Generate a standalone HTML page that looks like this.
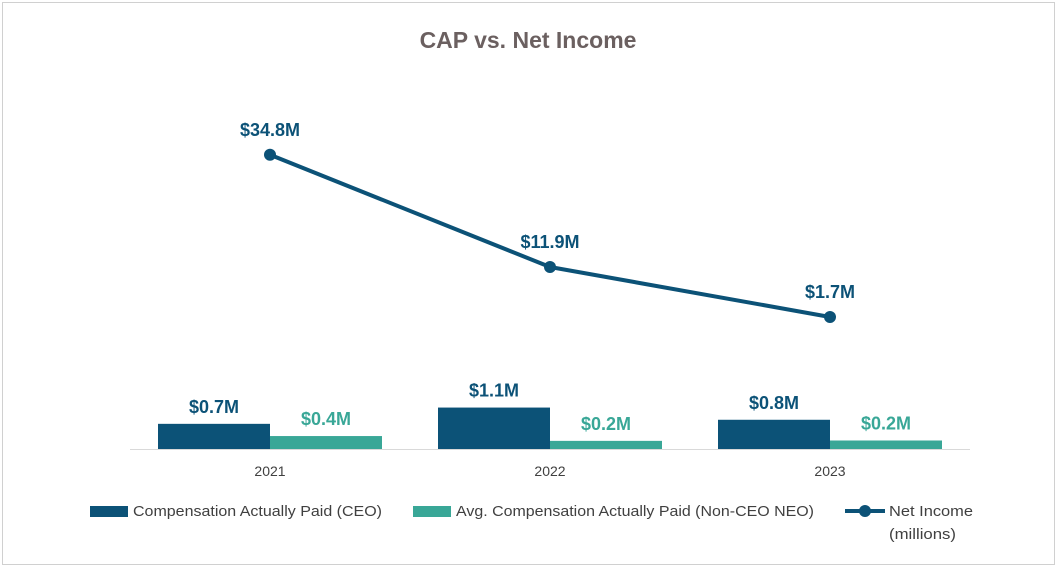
<!DOCTYPE html>
<html><head><meta charset="utf-8"><style>
body{margin:0;background:#fff;width:1058px;height:568px;overflow:hidden;font-family:"Liberation Sans",sans-serif}
svg{position:absolute;left:0;top:0}
</style></head><body>
<svg id="chart" width="1058" height="568">
<rect x="2.5" y="2.5" width="1052" height="562" fill="#fff" stroke="#d0d0d0"/>
<text x="528" y="48" text-anchor="middle" font-size="23" font-weight="bold" fill="#6b6060">CAP vs. Net Income</text>
<g id="plot"></g>
<g font-size="15" fill="#404040">
<rect x="90" y="506" width="38" height="11" fill="#0c5277"/>
<text x="133" y="516" textLength="249" lengthAdjust="spacingAndGlyphs">Compensation Actually Paid (CEO)</text>
<rect x="413" y="506" width="38" height="11" fill="#39a797"/>
<text x="456" y="516" textLength="358" lengthAdjust="spacingAndGlyphs">Avg. Compensation Actually Paid (Non-CEO NEO)</text>
<line x1="845" y1="511" x2="885" y2="511" stroke="#0c5277" stroke-width="4"/>
<circle cx="865" cy="511" r="6" fill="#0c5277"/>
<text x="889" y="516" textLength="84" lengthAdjust="spacingAndGlyphs">Net Income</text>
<text x="889" y="539" textLength="67" lengthAdjust="spacingAndGlyphs">(millions)</text>
</g>
</svg>
<script>
const categories=["2021","2022","2023"];
const ceoValues=[0.68,1.12,0.79];
const ceoLabels=["$0.7M","$1.1M","$0.8M"];
const neoValues=[0.35,0.22,0.23];
const neoLabels=["$0.4M","$0.2M","$0.2M"];
const netIncome=[34.8,11.9,1.7];
const netLabels=["$34.8M","$11.9M","$1.7M"];

const NS="http://www.w3.org/2000/svg";
const g=document.getElementById("plot");
const x0=130,x1=970,base=449;
const band=(x1-x0)/categories.length;
const xc=i=>x0+band*(i+0.5);
const yBar=v=>base-v*37;
const yLine=v=>325.3-v*4.9;
function mk(t,a){const e=document.createElementNS(NS,t);for(const k in a)e.setAttribute(k,a[k]);g.appendChild(e);return e;}
categories.forEach((c,i)=>{
  const cx=xc(i);
  let r=mk("rect",{x:cx-112,y:yBar(ceoValues[i]),width:112,height:base-yBar(ceoValues[i]),fill:"#0c5277"});
  
  
  r=mk("rect",{x:cx,y:yBar(neoValues[i]),width:112,height:base-yBar(neoValues[i]),fill:"#39a797"});
  
  
  let t=mk("text",{x:cx-56,y:yBar(ceoValues[i])-11,"text-anchor":"middle","font-size":"18","font-weight":"bold",fill:"#0c5277"});
  t.textContent=ceoLabels[i];
  
  
  t=mk("text",{x:cx+56,y:yBar(neoValues[i])-11,"text-anchor":"middle","font-size":"18","font-weight":"bold",fill:"#39a797"});
  t.textContent=neoLabels[i];
  
  
  t=mk("text",{x:cx,y:476,"text-anchor":"middle","font-size":"14",fill:"#404040"});
  t.textContent=c;
  
  
});
const ax=mk("line",{x1:x0,y1:base+0.5,x2:x1,y2:base+0.5,stroke:"#d9d9d9","stroke-width":1});


const pl=mk("polyline",{points:netIncome.map((v,i)=>xc(i)+","+yLine(v)).join(" "),fill:"none",stroke:"#0c5277","stroke-width":4,"stroke-linejoin":"round"});


netIncome.forEach((v,i)=>{
  const c=mk("circle",{cx:xc(i),cy:yLine(v),r:6,fill:"#0c5277"});
  
  
  const t=mk("text",{x:xc(i),y:yLine(v)-19,"text-anchor":"middle","font-size":"18","font-weight":"bold",fill:"#0c5277"});
  t.textContent=netLabels[i];
  
  
});
</script>
</body></html>
